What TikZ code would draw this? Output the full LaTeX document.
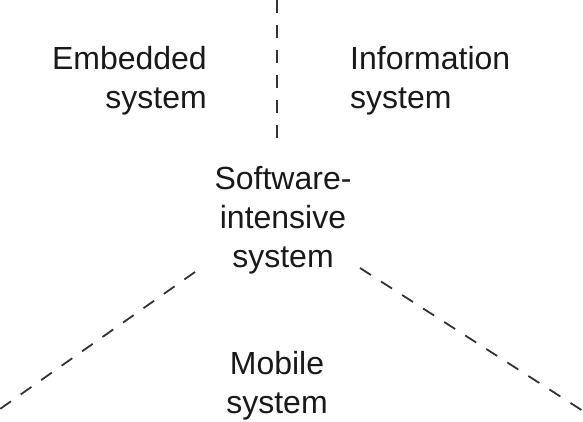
\documentclass[tikz,border=0pt]{standalone}
\usepackage{fontspec}
\setmainfont{Liberation Sans}
\usetikzlibrary{positioning}

\begin{document}
\begin{tikzpicture}[
  x=1pt, y=-1pt,
  font=\fontsize{32}{39}\selectfont,
  sysname/.style={inner sep=0pt, text=black!90},
  sepline/.style={draw=black!80, line width=1.8pt, dash pattern=on 13pt off 12pt}
]
\useasboundingbox (0,0) rectangle (583,421);

% upper pair
\node[sysname, align=right, anchor=base east] (embedded) at (207,108) {Embedded\\system};
\node[sysname, align=left, anchor=base west] (info) at (350,108) {Information\\system};

% centre
\node[sysname, align=center, anchor=base] (software) at (283,267) {Software-\\intensive\\system};

% bottom
\node[sysname, align=center, anchor=base] (mobile) at (277,413) {Mobile\\system};

% separators
\coordinate (vtop) at (277,0);
\coordinate (vbot) at (277,138);
\coordinate (ltop) at (195,272);
\coordinate (lbot) at (0,409);
\coordinate (rtop) at (360,268);
\coordinate (rbot) at (583,411);
\draw[sepline] (vtop) -- (vbot);
\draw[sepline] (ltop) -- (lbot);
\draw[sepline] (rtop) -- (rbot);

\end{tikzpicture}
\end{document}
